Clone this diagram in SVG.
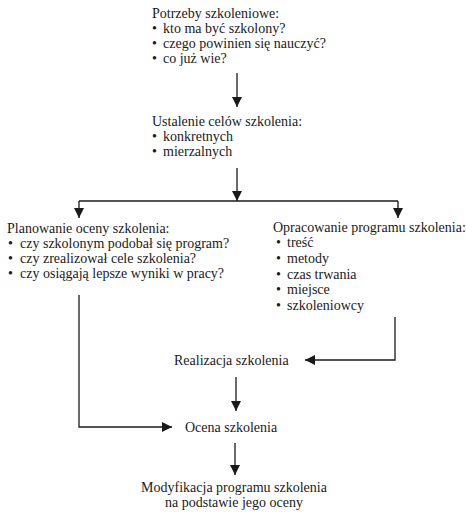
<svg xmlns="http://www.w3.org/2000/svg" width="466" height="515" viewBox="0 0 466 515">
<defs>
<marker id="ah" viewBox="0 0 10 10" refX="10" refY="5" markerWidth="10" markerHeight="10" markerUnits="userSpaceOnUse" orient="auto">
<path d="M0,0 L10,5 L0,10 Z" fill="#1a1a1a"/>
</marker>
<style>
text{font-family:"Liberation Serif","Times New Roman",serif;font-size:14px;fill:#1a1a1a}
.c{stroke:#1a1a1a;stroke-width:1.3;fill:none}
.a{marker-end:url(#ah)}
</style>
</defs>
<rect width="466" height="515" fill="#fff"/>
<g id="connectors">
<path class="c a" d="M237,73 V107"/>
<path class="c a" d="M237,168 V201"/>
<path class="c" d="M79,201 H398"/>
<path class="c a" d="M79,201 V218"/>
<path class="c a" d="M398,201 V218"/>
<path class="c a" d="M395,317 V360 H305"/>
<path class="c a" d="M236,377 V411"/>
<path class="c a" d="M79,295 V427 H172"/>
<path class="c a" d="M235,443 V475"/>
</g>
<g id="potrzeby">
<text x="152" y="18">Potrzeby szkoleniowe:</text>
<text x="152" y="33">•</text><text x="163" y="33">kto ma być szkolony?</text>
<text x="152" y="48">•</text><text x="163" y="48">czego powinien się nauczyć?</text>
<text x="152" y="63">•</text><text x="163" y="63">co już wie?</text>
</g>
<g id="ustalenie">
<text x="152" y="126">Ustalenie celów szkolenia:</text>
<text x="152" y="141">•</text><text x="163" y="141">konkretnych</text>
<text x="152" y="156">•</text><text x="163" y="156">mierzalnych</text>
</g>
<g id="planowanie">
<text x="7" y="233">Planowanie oceny szkolenia:</text>
<text x="8" y="248">•</text><text x="20" y="248">czy szkolonym podobał się program?</text>
<text x="8" y="263">•</text><text x="20" y="263">czy zrealizował cele szkolenia?</text>
<text x="8" y="278">•</text><text x="20" y="278">czy osiągają lepsze wyniki w pracy?</text>
</g>
<g id="opracowanie">
<text x="273" y="232">Opracowanie programu szkolenia:</text>
<text x="276" y="247">•</text><text x="287" y="247">treść</text>
<text x="276" y="263">•</text><text x="287" y="263">metody</text>
<text x="276" y="279">•</text><text x="287" y="279">czas trwania</text>
<text x="276" y="294">•</text><text x="287" y="294">miejsce</text>
<text x="276" y="310">•</text><text x="287" y="310">szkoleniowcy</text>
</g>
<g id="realizacja">
<text x="174" y="365">Realizacja szkolenia</text>
</g>
<g id="ocena">
<text x="185" y="432">Ocena szkolenia</text>
</g>
<g id="modyfikacja">
<text x="234" y="492" text-anchor="middle">Modyfikacja programu szkolenia</text>
<text x="234" y="507" text-anchor="middle">na podstawie jego oceny</text>
</g>
</svg>
